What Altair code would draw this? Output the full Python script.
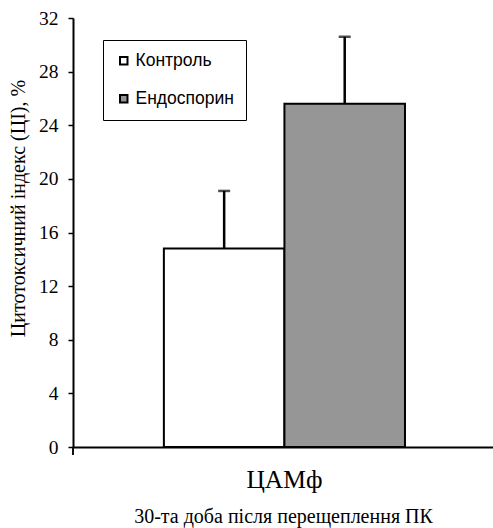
import altair as alt
import pandas as pd

groups = ["Контроль", "Ендоспорин"]
category = ["ЦАМф", "ЦАМф"]
means = [14.8, 25.6]
errors = [4.3, 5.0]
colors = ["#ffffff", "#969696"]

df = pd.DataFrame({"cat": category, "group": groups, "mean": means, "err": errors})
df["upper"] = df["mean"] + df["err"]

serif = "Liberation Serif"
sans = "Liberation Sans"
ytitle = "Цитотоксичний  індекс (ЦІ), %"
xtitle = "30-та доба після  перещеплення ПК"

x_axis = alt.Axis(labelAngle=0, labelFontSize=25.5, labelFont=serif, ticks=False, labelPadding=20,
                  titleFont=serif, titleFontSize=20, titlePadding=14, domainWidth=2, grid=False)
x_scale = alt.Scale(paddingInner=0, paddingOuter=0.371, align=0.508)
y_axis = alt.Axis(values=list(range(0, 33, 4)), labelFontSize=19.5, labelFont=serif,
                  tickSize=5, tickWidth=1.5, labelPadding=10, titleFont=serif,
                  titleFontSize=20, titleX=-45, titleY=190, domainWidth=2, grid=False)
y_scale = alt.Scale(domain=[0, 32], nice=False)

x_enc = alt.X("cat:N", title=xtitle, scale=x_scale, axis=x_axis)
xoff = alt.XOffset("group:N", sort=groups, scale=alt.Scale(paddingInner=0, paddingOuter=0))

bars = alt.Chart(df).mark_bar(stroke="black", strokeWidth=2).encode(
    x=x_enc,
    xOffset=xoff,
    y=alt.Y("mean:Q", title=ytitle, scale=y_scale, axis=y_axis),
    fill=alt.Fill("group:N", sort=groups,
                  scale=alt.Scale(domain=groups, range=colors),
                  legend=alt.Legend(title=None, orient="none", legendX=30, legendY=22,
                                    symbolType="square", symbolSize=56,
                                    symbolStrokeColor="black", symbolStrokeWidth=2,
                                    labelFont=sans, labelFontSize=17.5, labelColor="black",
                                    labelOffset=3, rowPadding=19, padding=12,
                                    strokeColor="black", fillColor="white")),
)

err_rule = alt.Chart(df).mark_rule(color="black", strokeWidth=2.5).encode(
    x=x_enc, xOffset=xoff,
    y=alt.Y("mean:Q", title=ytitle, scale=y_scale, axis=y_axis), y2="upper:Q")

caps = alt.Chart(df).mark_tick(color="black", thickness=2.5, size=12).encode(
    x=x_enc, xOffset=xoff,
    y=alt.Y("upper:Q", title=ytitle, scale=y_scale, axis=y_axis))

corner = alt.Chart(df).mark_rule(color="black", strokeWidth=1.5).encode(
    x=alt.value(0), y=alt.value(429), y2=alt.value(437))

chart = alt.layer(bars, err_rule, caps, corner).properties(
    width=420, height=429,
    autosize=alt.AutoSizeParams(type="none"),
    padding={"left": 73, "top": 18, "right": 0, "bottom": 81},
    background="white",
).configure_view(stroke=None).configure_axis(
    labelFont=serif, titleFont=serif, labelColor="black", titleColor="black",
    titleFontWeight="normal", tickColor="black", domainColor="black",
)

chart.save("out.html", embed_options={"renderer": "svg", "actions": False})
